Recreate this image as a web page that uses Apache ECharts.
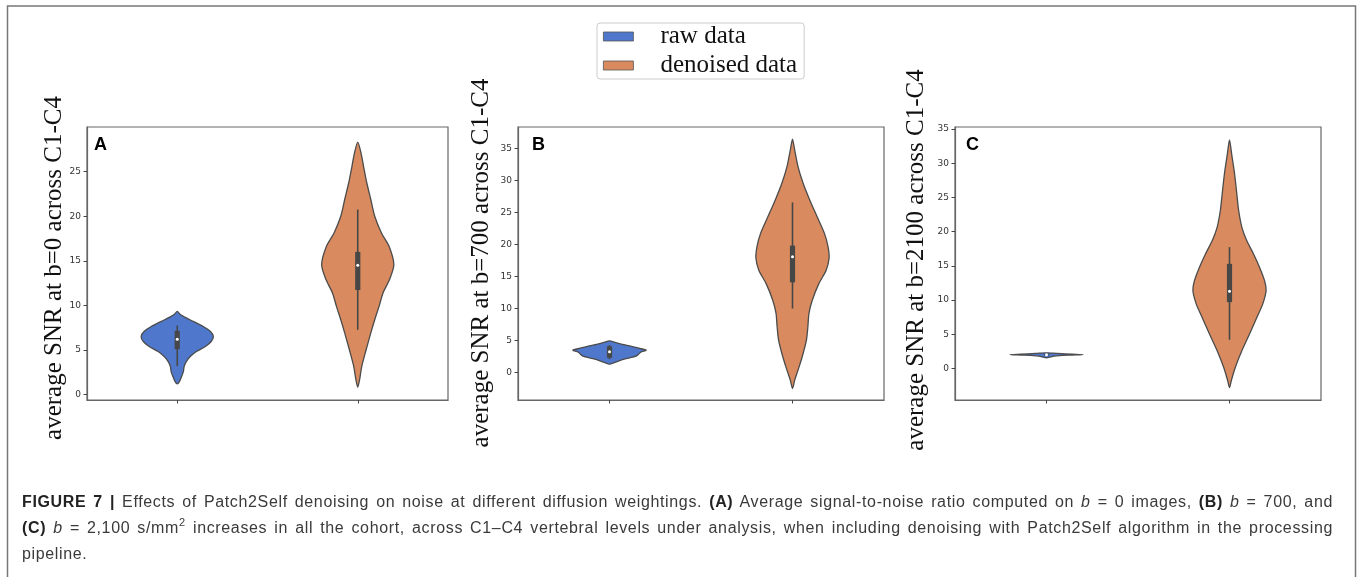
<!DOCTYPE html>
<html>
<head>
<meta charset="utf-8">
<script src="https://cdn.jsdelivr.net/npm/echarts@6/dist/echarts.min.js"></script>
<style>
html,body{margin:0;padding:0;background:#fff;}
#wrap{position:relative;width:1360px;height:577px;overflow:hidden;background:#fff;}
#chart{position:absolute;left:0;top:0;width:1360px;height:577px;}
#caption{position:absolute;left:22px;top:489px;width:1311px;font-family:'Liberation Sans',Arial,sans-serif;font-size:16px;letter-spacing:0.65px;line-height:26px;color:#3a3a3a;}
#caption div{text-align:justify;text-align-last:justify;white-space:nowrap;}
#caption div.last{text-align-last:left;}
#caption b{color:#222;}
#caption sup{font-size:11px;line-height:0;vertical-align:7px;}
</style>
</head>
<body>
<div id="wrap">
<div id="chart"></div>
<div id="caption">
<div><b>FIGURE 7 |</b> Effects of Patch2Self denoising on noise at different diffusion weightings. <b>(A)</b> Average signal-to-noise ratio computed on <i>b</i> = 0 images, <b>(B)</b> <i>b</i> = 700, and</div>
<div><b>(C)</b> <i>b</i> = 2,100 s/mm<sup>2</sup> increases in all the cohort, across C1–C4 vertebral levels under analysis, when including denoising with Patch2Self algorithm in the processing</div>
<div class="last">pipeline.</div>
</div>
</div>
<script>
// ---------------- data ----------------
const categories = ['raw data', 'denoised data'];
const panelLetters = ['A', 'B', 'C'];
const yAxisTitles = [
  'average SNR at b=0 across C1-C4',
  'average SNR at b=700 across C1-C4',
  'average SNR at b=2100 across C1-C4'
];
const yMinA = -0.6, yMaxA = 30.0;
const yMinB = -4.3, yMaxB = 38.4;
const yMinC = -4.6, yMaxC = 35.3;
const yTicksA = [0, 5, 10, 15, 20, 25];
const yTicksB = [0, 5, 10, 15, 20, 25, 30, 35];
const yTicksC = [0, 5, 10, 15, 20, 25, 30, 35];

// violin profiles: [SNR value, relative half-width (1 = widest)]
const rawProfileA = [[9.33,0],[9.0,0.08],[8.77,0.17],[8.21,0.44],[7.64,0.72],[7.08,0.92],[6.52,1.0],[5.96,0.94],[5.40,0.78],[4.83,0.53],[4.27,0.36],[3.71,0.25],[3.15,0.19],[2.59,0.17],[2.03,0.12],[1.46,0.06],[1.20,0]];
const denoisedProfileA = [[28.3,0],[27.1,0.09],[25.6,0.16],[23.75,0.25],[21.9,0.36],[20.0,0.47],[18.1,0.66],[16.6,0.87],[14.57,1.0],[12.9,0.88],[11.4,0.70],[9.9,0.59],[8.4,0.47],[6.9,0.36],[5.0,0.23],[3.15,0.11],[1.65,0.05],[0.83,0]];
const rawProfileB = [[4.95,0],[4.7,0.15],[4.4,0.35],[4.1,0.6],[3.8,0.8],[3.5,1.0],[3.2,0.86],[2.9,0.8],[2.6,0.74],[2.3,0.55],[2.0,0.35],[1.6,0.15],[1.3,0]];
const denoisedProfileB = [[36.5,0],[34.8,0.06],[32.2,0.15],[29.6,0.29],[27.0,0.47],[24.4,0.67],[21.8,0.87],[19.7,0.97],[17.9,1.0],[16.0,0.92],[13.9,0.72],[11.3,0.54],[9.25,0.45],[7.15,0.42],[5.06,0.38],[2.98,0.29],[0.88,0.18],[-1.2,0.06],[-2.5,0]];
const rawProfileC = [[2.3,0],[2.2,0.3],[2.1,0.7],[2.03,1.0],[1.97,0.7],[1.9,0.35],[1.8,0.2],[1.7,0.12],[1.55,0]];
const denoisedProfileC = [[33.4,0],[31.3,0.06],[28.4,0.14],[25.5,0.20],[23.1,0.25],[20.6,0.34],[18.7,0.47],[16.7,0.66],[14.8,0.82],[12.8,0.96],[11.4,1.0],[9.45,0.91],[7.5,0.75],[5.07,0.55],[2.63,0.34],[0.19,0.16],[-1.75,0.05],[-2.8,0]];

// inner box: [whisker low, Q1, median, Q3, whisker high]
const rawBoxA = [3.2, 5.1, 6.2, 7.15, 7.75];
const denoisedBoxA = [7.27, 11.73, 14.5, 16.0, 20.75];
const rawBoxB = [2.1, 2.3, 3.25, 4.1, 4.3];
const denoisedBoxB = [10.0, 14.1, 18.1, 19.85, 26.6];
const rawBoxC = [1.85, 1.9, 2.0, 2.08, 2.15];
const denoisedBoxC = [4.2, 9.7, 11.3, 15.3, 17.75];

// ---------------- styles ----------------
const rawColor = '#4f78cc';
const denoisedColor = '#d98b5f';
const outlineColor = '#4b4b4b';
const boxColor = '#474747';

const panels = [
  { min: yMinA, max: yMaxA, ticks: yTicksA, profiles: [rawProfileA, denoisedProfileA], boxes: [rawBoxA, denoisedBoxA],
    grid: { left: 87, top: 127, width: 361, height: 273 }, titleX: 54.5, titleY: 268, letterX: 94 },
  { min: yMinB, max: yMaxB, ticks: yTicksB, profiles: [rawProfileB, denoisedProfileB], boxes: [rawBoxB, denoisedBoxB],
    grid: { left: 518, top: 127, width: 366, height: 273 }, titleX: 481, titleY: 263, letterX: 532 },
  { min: yMinC, max: yMaxC, ticks: yTicksC, profiles: [rawProfileC, denoisedProfileC], boxes: [rawBoxC, denoisedBoxC],
    grid: { left: 955, top: 127, width: 366, height: 273 }, titleX: 916, titleY: 260, letterX: 966 }
];
const colors = [rawColor, denoisedColor];

function makeRenderer(profile, box, catIndex, color) {
  return function (params, api) {
    const band = api.size([1, 0])[0];
    const half = band * 0.2;
    const cx = api.coord([catIndex, 0])[0];
    const right = [], left = [];
    profile.forEach(function (p) {
      const y = api.coord([catIndex, p[0]])[1];
      right.push([cx + p[1] * half, y]);
      left.push([cx - p[1] * half, y]);
    });
    const pts = right.concat(left.reverse().slice(1, -1));
    const yLow = api.coord([catIndex, box[0]])[1];
    const yQ1 = api.coord([catIndex, box[1]])[1];
    const yMed = api.coord([catIndex, box[2]])[1];
    const yQ3 = api.coord([catIndex, box[3]])[1];
    const yHigh = api.coord([catIndex, box[4]])[1];
    return {
      type: 'group',
      children: [
        { type: 'polygon', shape: { points: pts, smooth: 0.25 },
          style: { fill: color, stroke: outlineColor, lineWidth: 1.3 } },
        { type: 'line', shape: { x1: cx, y1: yLow, x2: cx, y2: yHigh },
          style: { stroke: boxColor, lineWidth: 1.6 } },
        { type: 'rect', shape: { x: cx - 2.6, y: yQ3, width: 5.2, height: Math.max(yQ1 - yQ3, 1) },
          style: { fill: boxColor } },
        { type: 'circle', shape: { cx: cx, cy: yMed, r: 1.5 }, style: { fill: '#ffffff' } }
      ]
    };
  };
}

const grids = [], xAxes = [], yAxes = [], series = [], graphics = [];
panels.forEach(function (p, i) {
  grids.push(Object.assign({ show: true, borderColor: '#666', borderWidth: 1.2, backgroundColor: 'transparent' }, p.grid));
  xAxes.push({
    type: 'category', gridIndex: i, data: categories, position: 'bottom',
    axisLine: { show: true, onZero: false, lineStyle: { color: '#666', width: 1.2 } },
    axisTick: { show: true, alignWithLabel: true, length: 3.5, lineStyle: { color: '#444', width: 1 } },
    axisLabel: { show: false }, splitLine: { show: false }
  });
  yAxes.push({
    type: 'value', gridIndex: i, min: p.min, max: p.max,
    axisLine: { show: true, onZero: false, lineStyle: { color: '#666', width: 1.2 } },
    axisTick: { show: true, length: 3.5, customValues: p.ticks, lineStyle: { color: '#444', width: 1 } },
    axisLabel: { customValues: p.ticks, margin: 6, fontSize: 9, color: '#333', fontFamily: 'DejaVu Sans' },
    splitLine: { show: false }
  });
  [0, 1].forEach(function (g) {
    series.push({
      type: 'custom', name: categories[g], xAxisIndex: i, yAxisIndex: i,
      itemStyle: { color: colors[g] },
      data: [[g, p.boxes[g][2]]],
      renderItem: makeRenderer(p.profiles[g], p.boxes[g], g, colors[g]),
      silent: true, z: 2
    });
  });
  graphics.push({
    type: 'text', x: p.titleX, y: p.titleY, rotation: Math.PI / 2,
    style: { text: yAxisTitles[i], fontSize: 25, fontFamily: 'Liberation Serif', fill: '#111',
      textAlign: 'center', textVerticalAlign: 'middle', align: 'center', verticalAlign: 'middle' }
  });
  graphics.push({
    type: 'text', x: p.letterX, y: 145,
    style: { text: panelLetters[i], fontSize: 18, fontWeight: 'bold', fontFamily: 'Liberation Sans', fill: '#000',
      textAlign: 'left', textVerticalAlign: 'middle', align: 'left', verticalAlign: 'middle' }
  });
});
graphics.push({
  type: 'rect', shape: { x: 7.5, y: 6, width: 1348, height: 620 },
  style: { fill: 'none', stroke: '#777', lineWidth: 1.5 }, z: -10
});

const chart = echarts.init(document.getElementById('chart'), null, { renderer: 'canvas' });
chart.setOption({
  animation: false,
  backgroundColor: '#fff',
  grid: grids,
  xAxis: xAxes,
  yAxis: yAxes,
  legend: {
    data: categories.map(function (c) { return { name: c, icon: 'rect' }; }),
    orient: 'vertical', left: 597, top: 23,
    padding: [1, 7, 1, 6], itemWidth: 30, itemHeight: 9, itemGap: 4,
    borderColor: '#ccc', borderWidth: 1, borderRadius: 3, backgroundColor: '#fff',
    selectedMode: false,
    itemStyle: { borderColor: '#555', borderWidth: 0.8 },
    textStyle: { fontFamily: 'Liberation Serif', fontSize: 25, lineHeight: 25, color: '#111', padding: [0, 0, 0, 22] }
  },
  graphic: graphics,
  series: series
});
</script>
</body>
</html>
